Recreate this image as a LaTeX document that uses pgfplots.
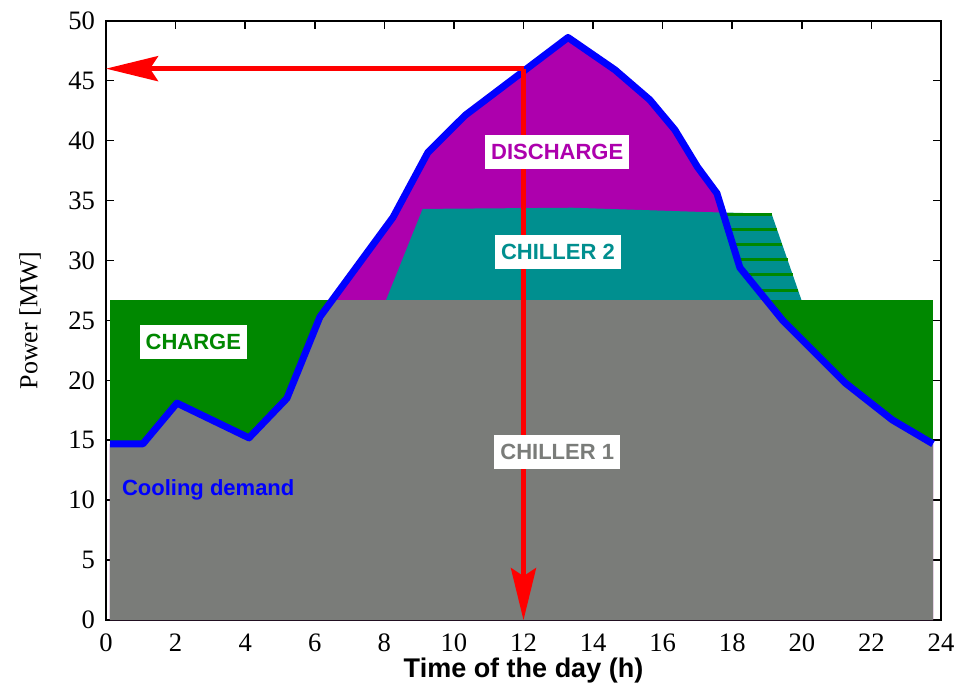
\documentclass[border=0pt]{standalone}
\usepackage{fontspec}
\setmainfont{Liberation Serif}
\newfontfamily\arialb{Liberation Sans}
\usepackage{pgfplots}
\pgfplotsset{compat=1.18}
\usetikzlibrary{arrows.meta}
\definecolor{cgreen}{RGB}{0,136,0}
\definecolor{cgray}{RGB}{122,124,121}
\definecolor{cteal}{RGB}{0,143,143}
\definecolor{cpurple}{RGB}{173,0,173}
\begin{document}
\begin{tikzpicture}
\begin{axis}[
  scale only axis, width=417.5pt, height=299.7pt,
  xmin=0, xmax=24, ymin=0, ymax=50,
  xtick={0,2,...,24}, ytick={0,5,...,50},
  tick pos=both, tick align=inside,
  major tick length=4pt,
  every tick/.style={black, line width=0.8pt},
  axis line style={line width=1pt},
  /pgf/number format/assume math mode=true,
  tick label style={font=\fontsize{13.3}{14}\selectfont},
  xticklabel style={yshift=-3.5pt},
  yticklabel style={xshift=-2pt},
  xlabel={Time of the day (h)},
  ylabel={Power [MW]},
  xlabel style={font=\arialb\bfseries\fontsize{13.5}{15}\selectfont, at={(axis description cs:0.5,0)}, anchor=center, yshift=-25pt},
  ylabel style={font=\fontsize{13}{14}\selectfont, at={([xshift=-38pt]axis description cs:0,0.5)}, anchor=center},
]
% chiller 2 full shape (incl. hatched part)
\addplot[draw=none, fill=cteal] coordinates {(8.05,26.7) (9.1,34.3) (13.4,34.4) (17.07,34.05) (19.13,33.9) (19.99,26.7)} -- cycle;
% hatch lines
\addplot[cgreen, line width=1.35pt] coordinates {(17.5,33.86) (19.13,33.86)};
\addplot[cgreen, line width=1.35pt] coordinates {(17.5,32.6) (19.29,32.6)};
\addplot[cgreen, line width=1.35pt] coordinates {(17.5,31.36) (19.43,31.36)};
\addplot[cgreen, line width=1.35pt] coordinates {(17.5,30.08) (19.59,30.08)};
\addplot[cgreen, line width=1.35pt] coordinates {(17.5,28.83) (19.74,28.83)};
\addplot[cgreen, line width=1.35pt] coordinates {(17.5,27.5) (19.89,27.5)};
% discharge (under demand)
\addplot[draw=none, fill=cpurple] coordinates {(0.115,14.7) (1.06,14.7) (2.04,18.1) (4.11,15.2) (5.2,18.5) (6.15,25.3) (8.25,33.6) (9.25,39.0) (10.32,42.1) (13.28,48.6) (14.63,45.9) (15.63,43.4) (16.35,40.9) (17.0,37.8) (17.56,35.6) (18.22,29.4) (19.45,25.0) (21.24,19.8) (22.6,16.7) (23.77,14.7)} \closedcycle;
% chiller 2 inside demand
\addplot[draw=none, fill=cteal] coordinates {(8.05,26.7) (9.1,34.3) (13.4,34.4) (17.07,34.05) (17.73,34.0) (18.22,29.4) (18.97,26.7)} -- cycle;
% charge
\addplot[draw=none, fill=cgreen] coordinates {(0.115,0) (0.115,26.7) (23.77,26.7) (23.77,0)} -- cycle;
% chiller 1
\addplot[draw=none, fill=cgray] coordinates {(0.115,0) (0.115,14.7) (1.06,14.7) (2.04,18.1) (4.11,15.2) (5.2,18.5) (6.15,25.3) (6.5,26.7) (18.97,26.7) (19.45,25.0) (21.24,19.8) (22.6,16.7) (23.77,14.7) (23.77,0)} -- cycle;
% cooling demand
\addplot[blue, line width=3.5pt, line join=round] coordinates {(0.12,14.7) (1.06,14.7) (2.04,18.1) (4.11,15.2) (5.2,18.5) (6.15,25.3) (8.25,33.6) (9.25,39.0) (10.32,42.1) (13.28,48.6) (14.63,45.9) (15.63,43.4) (16.35,40.9) (17.0,37.8) (17.56,35.6) (18.22,29.4) (19.45,25.0) (21.24,19.8) (22.6,16.7) (23.77,14.7)};
% arrows
\addplot[red, line width=2.4pt, -{Stealth[length=26pt,width=12.5pt,inset=4pt]}] coordinates {(12,46) (0,46)};
\addplot[red, line width=2.4pt, -{Stealth[length=26pt,width=12.5pt,inset=4pt]}] coordinates {(12,46) (12,0)};
% labels
\tikzset{lab/.style={fill=white, inner xsep=3pt, inner ysep=4.6pt, font=\arialb\bfseries\fontsize{11}{12}\selectfont}}
\node[lab, text=cpurple] at (axis cs:12.97,39.07) {DISCHARGE};
\node[lab, text=cteal] at (axis cs:12.99,30.7) {CHILLER 2};
\node[lab, text=cgray] at (axis cs:12.97,14.0) {CHILLER 1};
\node[lab, text=cgreen] at (axis cs:2.51,23.17) {CHARGE};
\node[anchor=base west, inner sep=0pt, text=blue, font=\arialb\bfseries\fontsize{11}{12}\selectfont] at (axis cs:0.45,10.4) {Cooling demand};
\end{axis}
\pgfresetboundingbox
\useasboundingbox ([xshift=-53pt,yshift=-36pt]current axis.south west) rectangle ([xshift=19.5pt,yshift=10.35pt]current axis.north east);
\end{tikzpicture}
\end{document}
